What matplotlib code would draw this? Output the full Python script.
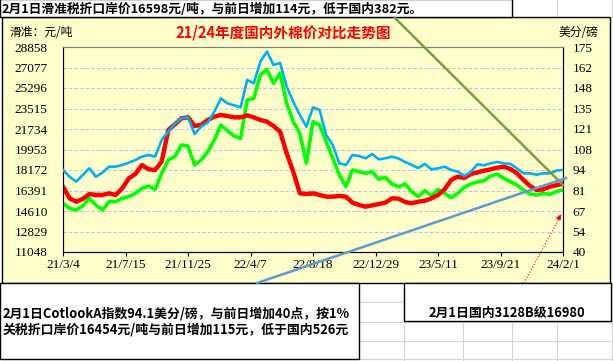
import matplotlib
matplotlib.use('Agg')
import matplotlib.pyplot as plt
from matplotlib.lines import Line2D
from matplotlib.patches import Rectangle
import pandas as pd

plt.rcParams['font.serif'] = ['Liberation Serif', 'DejaVu Serif']
CJK = ['Noto Sans CJK SC', 'DejaVu Sans']
W, H = 613, 361

# 数据（从图上读取，约每两周一个点）
dates = pd.date_range('2021-03-04', periods=77, freq='14D')

cotlook = [94.0, 89.6, 86.3, 90.7, 95.1, 89.6, 92.3, 96.2, 96.2, 97.3,
           98.8, 100.6, 102.8, 103.9, 102.8, 113.8, 119.3, 124.7, 128.0, 128.7,
           117.7, 122.5, 125.2, 132.4, 141.2, 137.9, 136.6, 135.3, 153.3, 151.1,
           165.3, 172.0, 163.2, 164.5, 148.9, 139.0, 130.2, 122.5, 135.3, 133.5,
           117.1, 110.5, 98.4, 97.3, 103.9, 103.2, 101.7, 104.5, 101.0, 101.7,
           102.8, 101.5, 99.3, 97.3, 95.3, 98.0, 94.4, 95.1, 96.2, 94.0,
           92.9, 90.1, 92.9, 97.7, 97.1, 98.4, 99.3, 98.4, 98.0, 95.1,
           91.8, 91.8, 90.9, 91.8, 91.8, 93.6, 94.1]

import_1pct = [15276, 14841, 14697, 15044, 15710, 15131, 14697, 15421, 15421, 15710,
               15855, 16145, 16579, 16782, 16492, 17882, 19041, 19330, 20344, 20257,
               18606, 19041, 19765, 20778, 22082, 21589, 21126, 20923, 24253, 24398,
               26425, 26900, 25701, 26600, 23964, 22371, 21357, 18751, 22371, 22082,
               20633, 19185, 17737, 16724, 18172, 18027, 17882, 18027, 17361, 17535,
               16956, 16724, 16956, 16289, 15855, 16376, 15942, 16492, 16145, 15768,
               16145, 16666, 16956, 17129, 17245, 17650, 17824, 17448, 17158, 16869,
               16434, 16087, 15999, 16145, 16058, 16300, 16454]

domestic = [16724, 15710, 15421, 15652, 16087, 15999, 15999, 16145, 15999, 16579,
            17448, 17824, 18606, 18229, 18172, 18896, 21647, 22139, 22661, 22748,
            21995, 22082, 22516, 22806, 22950, 22863, 22748, 22748, 22921, 22748,
            22516, 22371, 21995, 21502, 19620, 18027, 16145, 16087, 16145, 16000,
            15855, 15855, 15913, 15855, 15334, 15131, 14986, 15102, 15218, 15334,
            15710, 15681, 15392, 15276, 15421, 15508, 15710, 15999, 16492, 17303,
            17593, 17477, 17824, 17969, 18114, 18229, 18375, 18462, 18259, 17882,
            17303, 16782, 16434, 16492, 16724, 16850, 16980]

left_ticks = [11048, 12829, 14610, 16391, 18172, 19953, 21734, 23515, 25296, 27077, 28858]
right_ticks = [40, 53.5, 67, 80.5, 94, 107.5, 121, 134.5, 148, 161.5, 175]
right_labels = ['40', '54', '67', '81', '94', '108', '121', '135', '148', '162', '175']
tick_dates = pd.date_range('2021-03-04', periods=9, freq='133D')
tick_labels = ['21/3/4', '21/7/15', '21/11/25', '22/4/7', '22/8/18',
               '22/12/29', '23/5/11', '23/9/21', '24/2/1']

top_note = '2月1日滑准税折口岸价16598元/吨，与前日增加114元，低于国内382元。'
bottom_note = ['2月1日CotlookA指数94.1美分/磅，与前日增加40点，按1%',
               '关税折口岸价16454元/吨与前日增加115元，低于国内526元']
right_note = '2月1日国内3128B级16980'


def fx(x):
    return x / W


def fy(y):
    return 1 - y / H


fig = plt.figure(figsize=(W / 100, H / 100), dpi=100)
fig.patch.set_facecolor('white')

# excel 网格线
grid_c = '#D4D4D4'
for x in [404, 463, 512, 557, 612]:
    fig.add_artist(Line2D([fx(x), fx(x)], [fy(283), fy(361)], color=grid_c, lw=0.8, zorder=-3))
for y in [302, 322, 341, 359]:
    fig.add_artist(Line2D([fx(359), fx(613)], [fy(y), fy(y)], color=grid_c, lw=0.8, zorder=-3))
for x in [557, 612]:
    fig.add_artist(Line2D([fx(x), fx(x)], [fy(0), fy(17)], color=grid_c, lw=0.8, zorder=-3))

# 图表区
fig.add_artist(Rectangle((fx(2), fy(283)), fx(608), 266 / H, transform=fig.transFigure,
                         facecolor='#FFFFCC', edgecolor='black', lw=1, zorder=-2))
# 文本框
fig.add_artist(Rectangle((fx(0), fy(17)), fx(512), 17.5 / H, transform=fig.transFigure,
                         facecolor='white', edgecolor='black', lw=1, zorder=-1))
fig.add_artist(Rectangle((fx(0), fy(359)), fx(359), 76 / H, transform=fig.transFigure,
                         facecolor='white', edgecolor='black', lw=1, zorder=-1))
fig.add_artist(Rectangle((fx(404), fy(321)), fx(207), 38 / H, transform=fig.transFigure,
                         facecolor='white', edgecolor='black', lw=1, zorder=-1))

ax = fig.add_axes([fx(63), fy(252), fx(500), 205 / H])
ax.set_facecolor('#FFFFCC')
ax2 = ax.twinx()

ax.plot(dates, import_1pct, color='#00FF00', lw=2.6, zorder=3)
ax.plot(dates, domestic, color='#FF0000', lw=3.2, zorder=4)
ax2.plot(dates, cotlook, color='#00B0F0', lw=1.9, zorder=5)

ax.set_xlim(tick_dates[0], tick_dates[-1])
ax.set_ylim(left_ticks[0], left_ticks[-1])
ax2.set_ylim(right_ticks[0], right_ticks[-1])

ax.set_yticks(left_ticks)
ax.set_yticklabels([str(v) for v in left_ticks])
ax2.set_yticks(right_ticks)
ax2.set_yticklabels(right_labels)
ax.set_xticks(tick_dates)
ax.set_xticklabels(tick_labels)
for lbl in ax.get_yticklabels() + ax.get_xticklabels() + ax2.get_yticklabels():
    lbl.set_fontfamily('serif')
    lbl.set_fontsize(9.5)

ax.tick_params(axis='y', length=0, pad=11)
ax2.tick_params(axis='y', length=0, pad=7)
ax.tick_params(axis='x', length=3, direction='out', pad=2)

for t in left_ticks[1:-1]:
    ax.axhline(t, color='#C0C0F0', lw=0.8, ls=(0, (3, 2)), zorder=1)

for a in (ax, ax2):
    a.spines['top'].set_color('#808080')
    a.spines['left'].set_color('black')
    a.spines['right'].set_color('black')
    a.spines['bottom'].set_color('black')

# 文字
fig.text(fx(2), fy(9), top_note, family=CJK, fontsize=9.2, fontweight='bold', va='center', ha='left')
fig.text(fx(283), fy(33), '21/24年度国内外棉价对比走势图', family=CJK, fontsize=10.5,
         fontweight='bold', color='red', va='center', ha='center')
fig.text(fx(10), fy(33), '滑准：元/吨', family=CJK, fontsize=8.5, va='center', ha='left')
fig.text(fx(598), fy(33), '美分/磅', family=CJK, fontsize=8.5, va='center', ha='right')
fig.text(fx(3), fy(313), bottom_note[0], family=CJK, fontsize=9.3, fontweight='bold', va='center')
fig.text(fx(3), fy(330), bottom_note[1], family=CJK, fontsize=9.3, fontweight='bold', va='center')
fig.text(fx(507), fy(313), right_note, family=CJK, fontsize=9.3, fontweight='bold', va='center', ha='center')

# 插入的线条
fig.add_artist(Line2D([fx(395), fx(563)], [fy(18), fy(185)], color='#77A040', lw=1.8, zorder=10))
fig.add_artist(Line2D([fx(257), fx(566)], [fy(283), fy(178)], color='#5B9BD5', lw=1.8, zorder=10))
fig.add_artist(Line2D([fx(524), fx(561)], [fy(283), fy(215)], color='red', lw=0.8, ls=':', zorder=10))
ax.annotate('', xy=(fx(562), fy(212)), xytext=(fx(558), fy(220)), xycoords='figure fraction',
            arrowprops=dict(arrowstyle='-|>', color='red', lw=0.8, mutation_scale=7), zorder=10,
            annotation_clip=False)

fig.savefig('out.png', dpi=100)
